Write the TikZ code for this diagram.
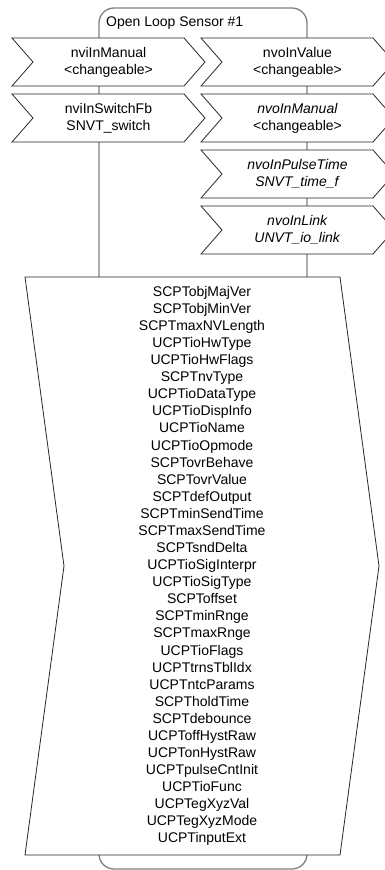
\documentclass[tikz,border=0pt]{standalone}
\usepackage{fontspec}
\setmainfont{Liberation Sans}
\newcommand\chevbox[4]{%
  \draw[port] (#2,#3) -- ++(172,0) -- ++(21,24) -- ++(-21,24) -- ++(-172,0) -- ++(21,-24) -- cycle;
  \node[lbl] (#1) at (#2+96.5,#3+24) {#4};}
\begin{document}
\begin{tikzpicture}[x=1pt,y=-1pt,
  frame/.style={draw=black!50, line width=1.3pt, rounded corners=15pt},
  port/.style={draw=black!85, line width=0.8pt, fill=white},
  lbl/.style={align=center, font=\fontsize{14}{17}\selectfont, inner sep=0pt}]
\useasboundingbox (0,0) rectangle (385,870);
\draw[frame] (99,8) rectangle (307,869);
\node[lbl, anchor=west] (title) at (106,23) {Open Loop Sensor \#1};
\chevbox{a}{12}{38}{nviInManual\\<changeable>}
\chevbox{b}{12}{94}{nviInSwitchFb\\SNVT\_switch}
\chevbox{c}{201}{38}{nvoInValue\\<changeable>}
\chevbox{d}{201}{94}{\textit{nvoInManual}\\<changeable>}
\chevbox{e}{201}{150}{\textit{nvoInPulseTime}\\\textit{SNVT\_time\_f}}
\chevbox{f}{201}{206}{\textit{nvoInLink}\\\textit{UNVT\_io\_link}}
\draw[port] (25,277) -- (340,277) -- (379,566) -- (340,855) -- (25,855) -- (64,566) -- cycle;
\node[lbl, font=\fontsize{14}{17.08}\selectfont] (cp) at (202,566) {SCPTobjMajVer\\SCPTobjMinVer\\SCPTmaxNVLength\\UCPTioHwType\\UCPTioHwFlags\\SCPTnvType\\UCPTioDataType\\UCPTioDispInfo\\UCPTioName\\UCPTioOpmode\\SCPTovrBehave\\SCPTovrValue\\SCPTdefOutput\\SCPTminSendTime\\SCPTmaxSendTime\\SCPTsndDelta\\UCPTioSigInterpr\\UCPTioSigType\\SCPToffset\\SCPTminRnge\\SCPTmaxRnge\\UCPTioFlags\\UCPTtrnsTblIdx\\UCPTntcParams\\SCPTholdTime\\SCPTdebounce\\UCPToffHystRaw\\UCPTonHystRaw\\UCPTpulseCntInit\\UCPTioFunc\\UCPTegXyzVal\\UCPTegXyzMode\\UCPTinputExt};
\end{tikzpicture}
\end{document}
